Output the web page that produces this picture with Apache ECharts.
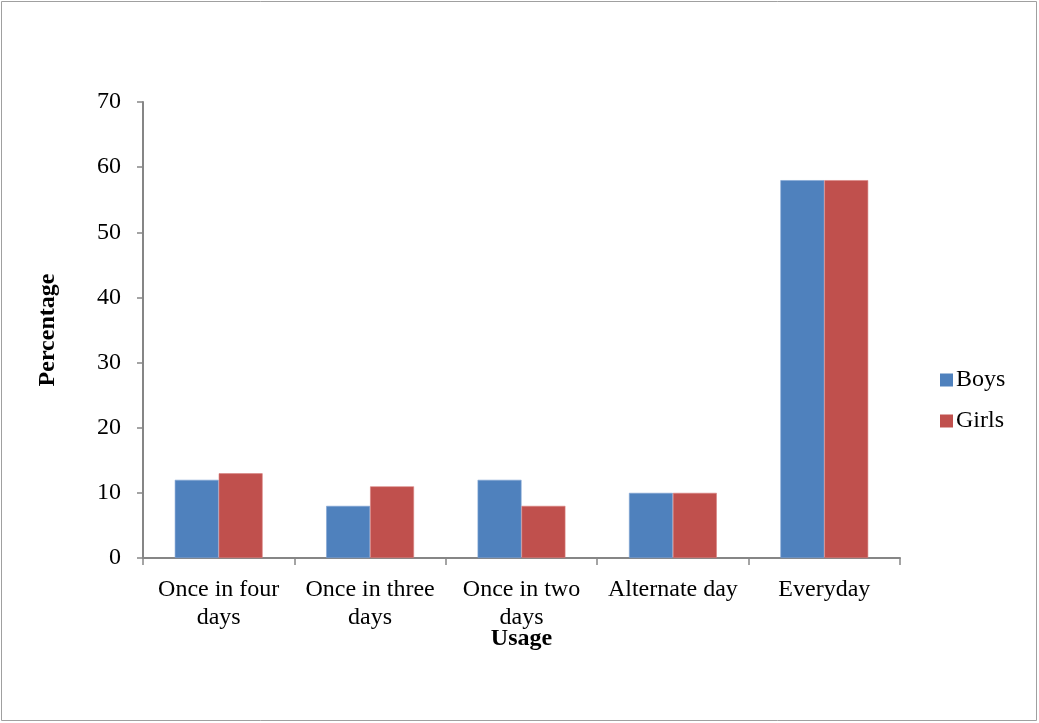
<!DOCTYPE html>
<html>
<head>
<meta charset="utf-8">
<script src="https://cdn.jsdelivr.net/npm/echarts@6/dist/echarts.min.js"></script>
<style>
  html, body { margin: 0; padding: 0; background: #fff; }
  #chart { width: 1039px; height: 723px; }
</style>
</head>
<body>
<div id="chart"></div>
<script>
// Frequency of usage, by gender (percent)
var categories = ['Once in four\ndays', 'Once in three\ndays', 'Once in two\ndays', 'Alternate day', 'Everyday'];
var boys = [12, 8, 12, 10, 58];
var girls = [13, 11, 8, 10, 58];
var seriesNames = ['Boys', 'Girls'];

var FONT = '"Liberation Serif", "Times New Roman", serif';
var AXIS_GRAY = '#868686';
var FS = 24;

var chart = echarts.init(document.getElementById('chart'), null, { renderer: 'canvas' });
chart.setOption({
  backgroundColor: '#fff',
  animation: false,
  textStyle: { fontFamily: FONT, color: '#000' },
  graphic: [{
    type: 'rect',
    shape: { x: 1.5, y: 1.5, width: 1035, height: 719 },
    style: { fill: 'none', stroke: '#a0a0a0', lineWidth: 1 },
    silent: true
  }],
  grid: { left: 143, right: 139, top: 102, bottom: 165, containLabel: false },
  legend: {
    orient: 'vertical',
    left: 935,
    top: 363,
    itemWidth: 13,
    itemHeight: 13,
    itemGap: 17,
    icon: 'rect',
    itemStyle: { borderWidth: 0 },
    textStyle: { fontFamily: FONT, fontSize: FS, color: '#000', padding: [0, 0, 0, -2] },
    data: seriesNames
  },
  xAxis: {
    type: 'category',
    data: categories,
    name: 'Usage',
    nameLocation: 'middle',
    nameGap: 69,
    nameMoveOverlap: false,
    nameTextStyle: { fontFamily: FONT, fontSize: FS, fontWeight: 'bold', color: '#000' },
    axisLine: { lineStyle: { color: AXIS_GRAY, width: 2 } },
    axisTick: { show: true, alignWithLabel: false, length: 7, lineStyle: { color: AXIS_GRAY, width: 1.5 } },
    axisLabel: { fontFamily: FONT, fontSize: FS, color: '#000', lineHeight: 28, margin: 18, interval: 0 }
  },
  yAxis: {
    type: 'value',
    min: 0,
    max: 70,
    interval: 10,
    name: 'Percentage',
    nameLocation: 'middle',
    nameGap: 83,
    nameRotate: 90,
    nameMoveOverlap: false,
    nameTextStyle: { fontFamily: FONT, fontSize: FS, fontWeight: 'bold', color: '#000' },
    splitLine: { show: false },
    axisLine: { show: true, lineStyle: { color: AXIS_GRAY, width: 2 } },
    axisTick: { show: true, length: 6, lineStyle: { color: AXIS_GRAY, width: 1.5 } },
    axisLabel: { fontFamily: FONT, fontSize: FS, color: '#000', margin: 22 }
  },
  series: [
    {
      name: seriesNames[0],
      type: 'bar',
      data: boys,
      barGap: '0%',
      barCategoryGap: '42%',
      itemStyle: { color: '#4F81BD', borderColor: '#7fa3d3', borderWidth: 0.6 }
    },
    {
      name: seriesNames[1],
      type: 'bar',
      data: girls,
      barGap: '0%',
      barCategoryGap: '42%',
      itemStyle: { color: '#C0504D', borderColor: '#d98280', borderWidth: 0.6 }
    }
  ]
});
</script>
</body>
</html>
